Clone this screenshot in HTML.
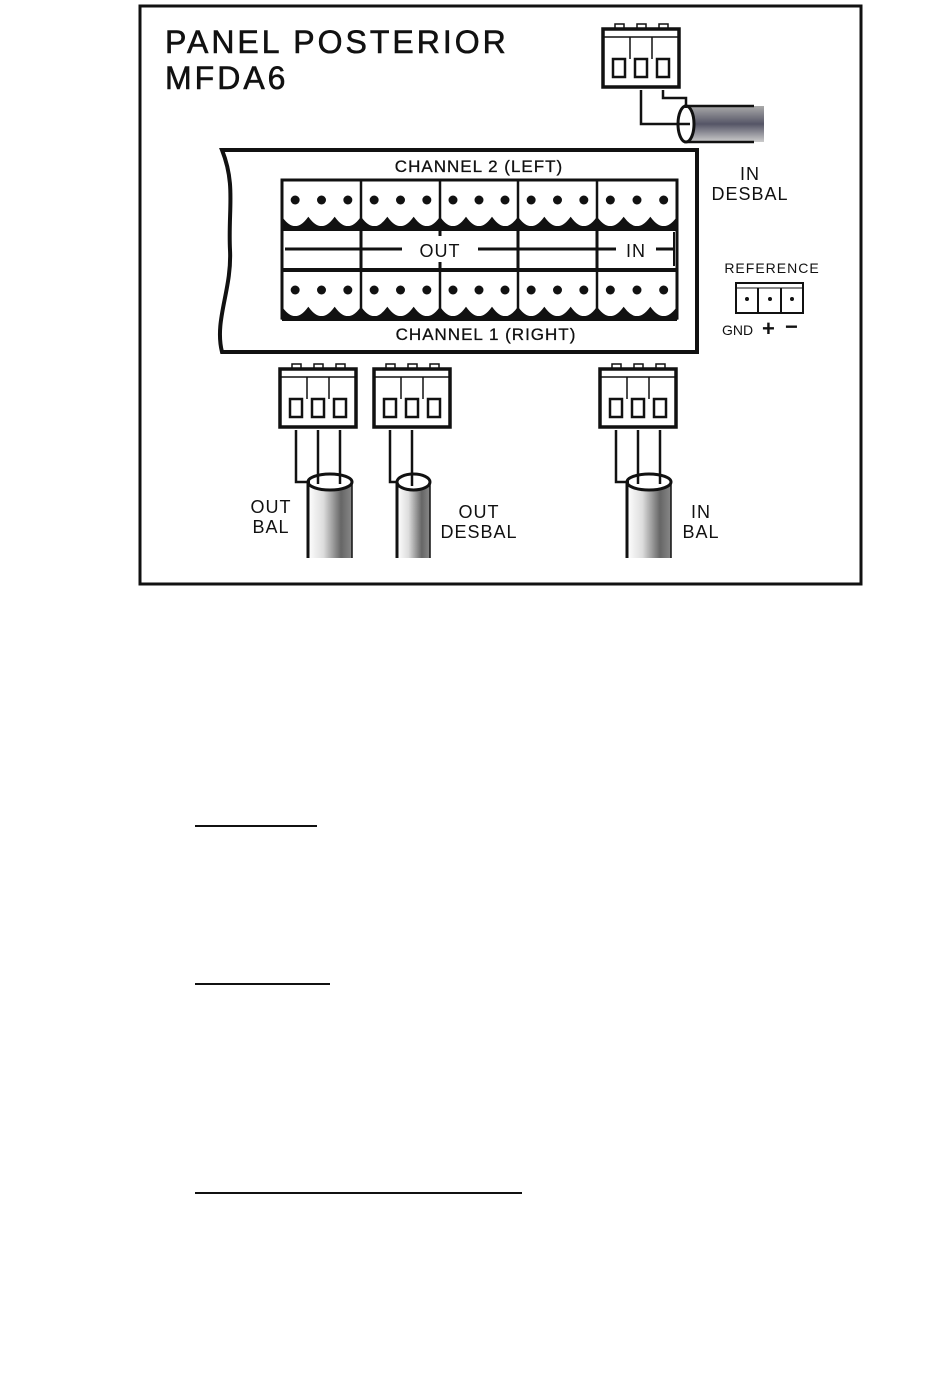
<!DOCTYPE html>
<html><head><meta charset="utf-8"><style>
html,body{margin:0;padding:0;background:#fff;}
svg{display:block;}
text{font-family:"Liberation Sans",sans-serif;fill:#111;}
</style></head><body>
<svg id="s" width="950" height="1398" viewBox="0 0 950 1398" xmlns="http://www.w3.org/2000/svg">
<defs>
<linearGradient id="cyl" x1="0" x2="1" y1="0" y2="0">
<stop offset="0" stop-color="#fff"/><stop offset="0.35" stop-color="#ddd"/><stop offset="0.75" stop-color="#666"/><stop offset="1" stop-color="#888"/>
</linearGradient>
<linearGradient id="cylh" x1="0" x2="0" y1="0" y2="1">
<stop offset="0" stop-color="#aaa"/><stop offset="0.5" stop-color="#556"/><stop offset="1" stop-color="#ccc"/>
</linearGradient>
</defs>
<rect x="140" y="6" width="721" height="578" fill="none" stroke="#111" stroke-width="3"/>
<text x="165" y="53" font-size="32" letter-spacing="3" stroke="#111" stroke-width="0.6">PANEL POSTERIOR</text>
<text x="165" y="89" font-size="32" letter-spacing="3" stroke="#111" stroke-width="0.6">MFDA6</text>
<!-- panel -->
<path d="M222,150 L697,150 L697,352 L222,352 C214,320 232,290 230,250 C228,210 236,185 222,150 Z" fill="none" stroke="#111" stroke-width="4"/>
<text x="479" y="172" font-size="17" text-anchor="middle" letter-spacing="1" stroke="#111" stroke-width="0.3">CHANNEL 2 (LEFT)</text>
<text x="486" y="340" font-size="17" text-anchor="middle" letter-spacing="1" stroke="#111" stroke-width="0.3">CHANNEL 1 (RIGHT)</text>
<g id="blk"></g>
<rect x="402" y="240" width="76" height="20" fill="#fff"/>
<text x="440" y="257" font-size="18" text-anchor="middle" letter-spacing="1">OUT</text>
<rect x="616" y="240" width="40" height="20" fill="#fff"/>
<text x="636" y="257" font-size="18" text-anchor="middle" letter-spacing="1">IN</text>
<text x="750" y="180" font-size="18" text-anchor="middle" letter-spacing="1">IN</text>
<text x="750" y="200" font-size="18" text-anchor="middle" letter-spacing="1">DESBAL</text>
<text x="772" y="273" font-size="14" text-anchor="middle" letter-spacing="1">REFERENCE</text>
<g>
<rect x="736" y="283" width="67" height="30" fill="#fff" stroke="#111" stroke-width="2"/>
<line x1="736" y1="288" x2="803" y2="288" stroke="#111"/>
<line x1="758" y1="288" x2="758" y2="313" stroke="#111" stroke-width="2"/>
<line x1="781" y1="288" x2="781" y2="313" stroke="#111" stroke-width="2"/>
<circle cx="747" cy="299" r="2" fill="#111"/><circle cx="770" cy="299" r="2" fill="#111"/><circle cx="792" cy="299" r="2" fill="#111"/>
</g>
<text x="722" y="335" font-size="14">GND</text>
<text x="762" y="336" font-size="22" font-weight="bold">+</text>
<text x="785" y="334" font-size="22" font-weight="bold">−</text>
<g id="conns"></g>
<text x="271" y="513" font-size="18" text-anchor="middle" letter-spacing="1">OUT</text>
<text x="271" y="533" font-size="18" text-anchor="middle" letter-spacing="1">BAL</text>
<text x="479" y="518" font-size="18" text-anchor="middle" letter-spacing="1">OUT</text>
<text x="479" y="538" font-size="18" text-anchor="middle" letter-spacing="1">DESBAL</text>
<text x="701" y="518" font-size="18" text-anchor="middle" letter-spacing="1">IN</text>
<text x="701" y="538" font-size="18" text-anchor="middle" letter-spacing="1">BAL</text>
<line x1="195" y1="826" x2="317" y2="826" stroke="#111" stroke-width="2"/>
<line x1="195" y1="984" x2="330" y2="984" stroke="#111" stroke-width="2"/>
<line x1="195" y1="1193" x2="522" y2="1193" stroke="#111" stroke-width="2"/>
</svg>
<script>
var NS="http://www.w3.org/2000/svg";
function el(p,t,a){var e=document.createElementNS(NS,t);for(var k in a)e.setAttribute(k,a[k]);p.appendChild(e);return e;}
var b=document.getElementById("blk");
var xs=[282,361,440,518,597,677];
el(b,"rect",{x:282,y:180,width:395,height:138,fill:"#fff",stroke:"#111","stroke-width":3});
function row(y0,y1){
 for(var i=0;i<5;i++){var x0=xs[i],x1=xs[i+1],w=(x1-x0)/3;
  var d="M"+x0+","+(y1+1)+" L"+x0+","+(y1-10);
  for(var j=0;j<3;j++){var a=x0+j*w;d+=" Q"+(a+w/2)+","+(y1+8)+" "+(a+w)+","+(y1-10);}
  d+=" L"+x1+","+(y1+1)+" Z";
  el(b,"path",{d:d,fill:"#111",stroke:"#111","stroke-width":1.5});
  el(b,"line",{x1:x0,y1:y0,x2:x0,y2:y1,stroke:"#111","stroke-width":2.5});
  for(var j=0;j<3;j++)el(b,"circle",{cx:x0+w*(j+0.5),cy:y0+20,r:4.5,fill:"#111"});
 }
 el(b,"rect",{x:282,y:y1-2,width:395,height:5,fill:"#111"});
}
row(180,228);row(270,318);
el(b,"rect",{x:282,y:268,width:395,height:4,fill:"#111"});
el(b,"line",{x1:285,y1:249,x2:675,y2:249,stroke:"#111","stroke-width":3});
[361,518,597].forEach(function(x){el(b,"line",{x1:x,y1:228,x2:x,y2:270,stroke:"#111","stroke-width":3});});
el(b,"line",{x1:440,y1:228,x2:440,y2:236,stroke:"#111","stroke-width":3});
el(b,"line",{x1:440,y1:262,x2:440,y2:270,stroke:"#111","stroke-width":3});
el(b,"line",{x1:674,y1:232,x2:674,y2:266,stroke:"#111","stroke-width":2});
var c=document.getElementById("conns");
function conn(x,y){
 var w=76,h=58;
 for(var i=0;i<3;i++)el(c,"rect",{x:x+12+i*22,y:y-5,width:9,height:5,fill:"none",stroke:"#111","stroke-width":1.5});
 el(c,"rect",{x:x,y:y,width:w,height:h,fill:"#fff",stroke:"#111","stroke-width":3.5});
 el(c,"line",{x1:x,y1:y+8,x2:x+w,y2:y+8,stroke:"#111","stroke-width":1.5});
 el(c,"line",{x1:x+27,y1:y+8,x2:x+27,y2:y+30,stroke:"#111","stroke-width":1.5});
 el(c,"line",{x1:x+49,y1:y+8,x2:x+49,y2:y+30,stroke:"#111","stroke-width":1.5});
 var cx=[];
 for(var i=0;i<3;i++){var px=x+10+i*22;el(c,"rect",{x:px,y:y+30,width:12,height:18,fill:"#fff",stroke:"#111","stroke-width":2.5});cx.push(px+6);}
 return cx;
}
function vcyl(x,y,w,h){
 el(c,"rect",{x:x,y:y,width:w,height:h,fill:"url(#cyl)"});
 el(c,"line",{x1:x,y1:y,x2:x,y2:y+h,stroke:"#111","stroke-width":3});
 el(c,"line",{x1:x+w,y1:y,x2:x+w,y2:y+h,stroke:"#111","stroke-width":1.5});
 el(c,"ellipse",{cx:x+w/2,cy:y,rx:w/2,ry:8,fill:"#fff",stroke:"#111","stroke-width":3});
}
var p=conn(280,369);
vcyl(308,482,44,76);
el(c,"polyline",{points:p[0]+",430 "+p[0]+",482 310,482",fill:"none",stroke:"#111","stroke-width":2.5});
el(c,"line",{x1:p[1],y1:430,x2:p[1],y2:484,stroke:"#111","stroke-width":2.5});
el(c,"line",{x1:p[2],y1:430,x2:p[2],y2:484,stroke:"#111","stroke-width":2.5});
p=conn(374,369);
vcyl(397,482,33,76);
el(c,"polyline",{points:p[0]+",430 "+p[0]+",482 398,482",fill:"none",stroke:"#111","stroke-width":2.5});
el(c,"line",{x1:p[1],y1:430,x2:p[1],y2:486,stroke:"#111","stroke-width":2.5});
p=conn(600,369);
vcyl(627,482,44,76);
el(c,"polyline",{points:p[0]+",430 "+p[0]+",482 629,482",fill:"none",stroke:"#111","stroke-width":2.5});
el(c,"line",{x1:p[1],y1:430,x2:p[1],y2:484,stroke:"#111","stroke-width":2.5});
el(c,"line",{x1:p[2],y1:430,x2:p[2],y2:484,stroke:"#111","stroke-width":2.5});
p=conn(603,29);
el(c,"rect",{x:684,y:106,width:80,height:36,fill:"url(#cylh)"});
el(c,"line",{x1:684,y1:106,x2:754,y2:106,stroke:"#111","stroke-width":2.5});
el(c,"line",{x1:684,y1:142,x2:754,y2:142,stroke:"#111","stroke-width":2.5});
el(c,"ellipse",{cx:686,cy:124,rx:8,ry:18,fill:"#fff",stroke:"#111","stroke-width":3});
el(c,"polyline",{points:p[1]+",90 "+p[1]+",124 690,124",fill:"none",stroke:"#111","stroke-width":2.5});
el(c,"polyline",{points:p[2]+",90 "+p[2]+",98 686,98 686,108",fill:"none",stroke:"#111","stroke-width":2.5});
</script>
</body></html>
